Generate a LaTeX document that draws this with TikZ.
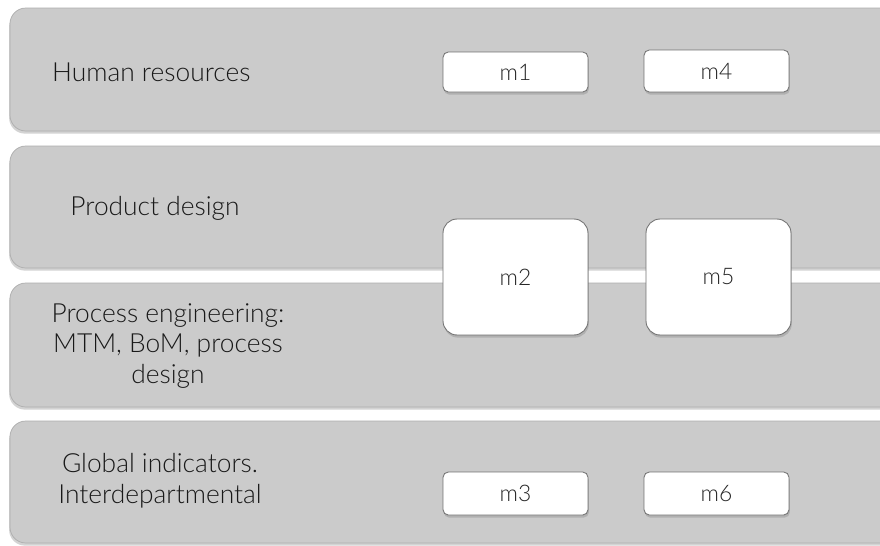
\documentclass[tikz,border=0pt]{standalone}
\usepackage{fontspec}
\setmainfont{Lato Light}
\usetikzlibrary{shadows}

\begin{document}
\begin{tikzpicture}[x=0.02cm,y=-0.02cm]
		\tikzset{band/.style={fill=bandgray,draw=bandgray!85!black,line width=0.4pt,rounded corners=9pt,drop shadow={shadow xshift=-0.5pt,shadow yshift=-1.5pt,opacity=0.35}},
		mbox/.style={fill=white,draw=gray!90!black,line width=0.5pt,rounded corners=3pt,drop shadow={shadow xshift=0.5pt,shadow yshift=-1.5pt,opacity=0.35},font=\fontsize{13}{15}\selectfont,text=black!85},
		lbl/.style={font=\fontsize{15}{17.5}\selectfont,text=black!90,align=center}};
		\definecolor{bandgray}{RGB}{203,203,203}
		\useasboundingbox (0,0) rectangle (880,545);
		\clip (0,0) rectangle (880,545);
		% bands
		\draw[band] (10,8) rectangle (910,131);
		\draw[band] (10,146) rectangle (910,268);
		\draw[band] (10,283) rectangle (910,407);
		\draw[band] (10,421) rectangle (910,543);
		% labels
		\node[lbl,anchor=west] (hr) at (46,72) {Human resources};
		\node[lbl] (pd) at (155,208) {Product design};
		\node[lbl] (pe) at (168,346) {Process engineering:\\MTM, BoM, process\\design};
		\node[lbl] (gi) at (160,481) {Global indicators.\\Interdepartmental};
		% boxes
		\node[mbox,minimum width=2.9cm,minimum height=0.8cm] (m1) at (515.5,72) {m1};
		\node[mbox,minimum width=2.9cm,minimum height=0.84cm] (m4) at (716.5,71) {m4};
		\node[mbox,minimum width=2.9cm,minimum height=2.32cm,rounded corners=8pt] (m2) at (515.5,277) {m2};
		\node[mbox,minimum width=2.9cm,minimum height=2.32cm,rounded corners=8pt] (m5) at (718.5,277) {m5};
		\node[mbox,minimum width=2.9cm,minimum height=0.86cm] (m3) at (515.5,493.5) {m3};
		\node[mbox,minimum width=2.9cm,minimum height=0.86cm] (m6) at (716.5,493.5) {m6};
\end{tikzpicture}
\end{document}
